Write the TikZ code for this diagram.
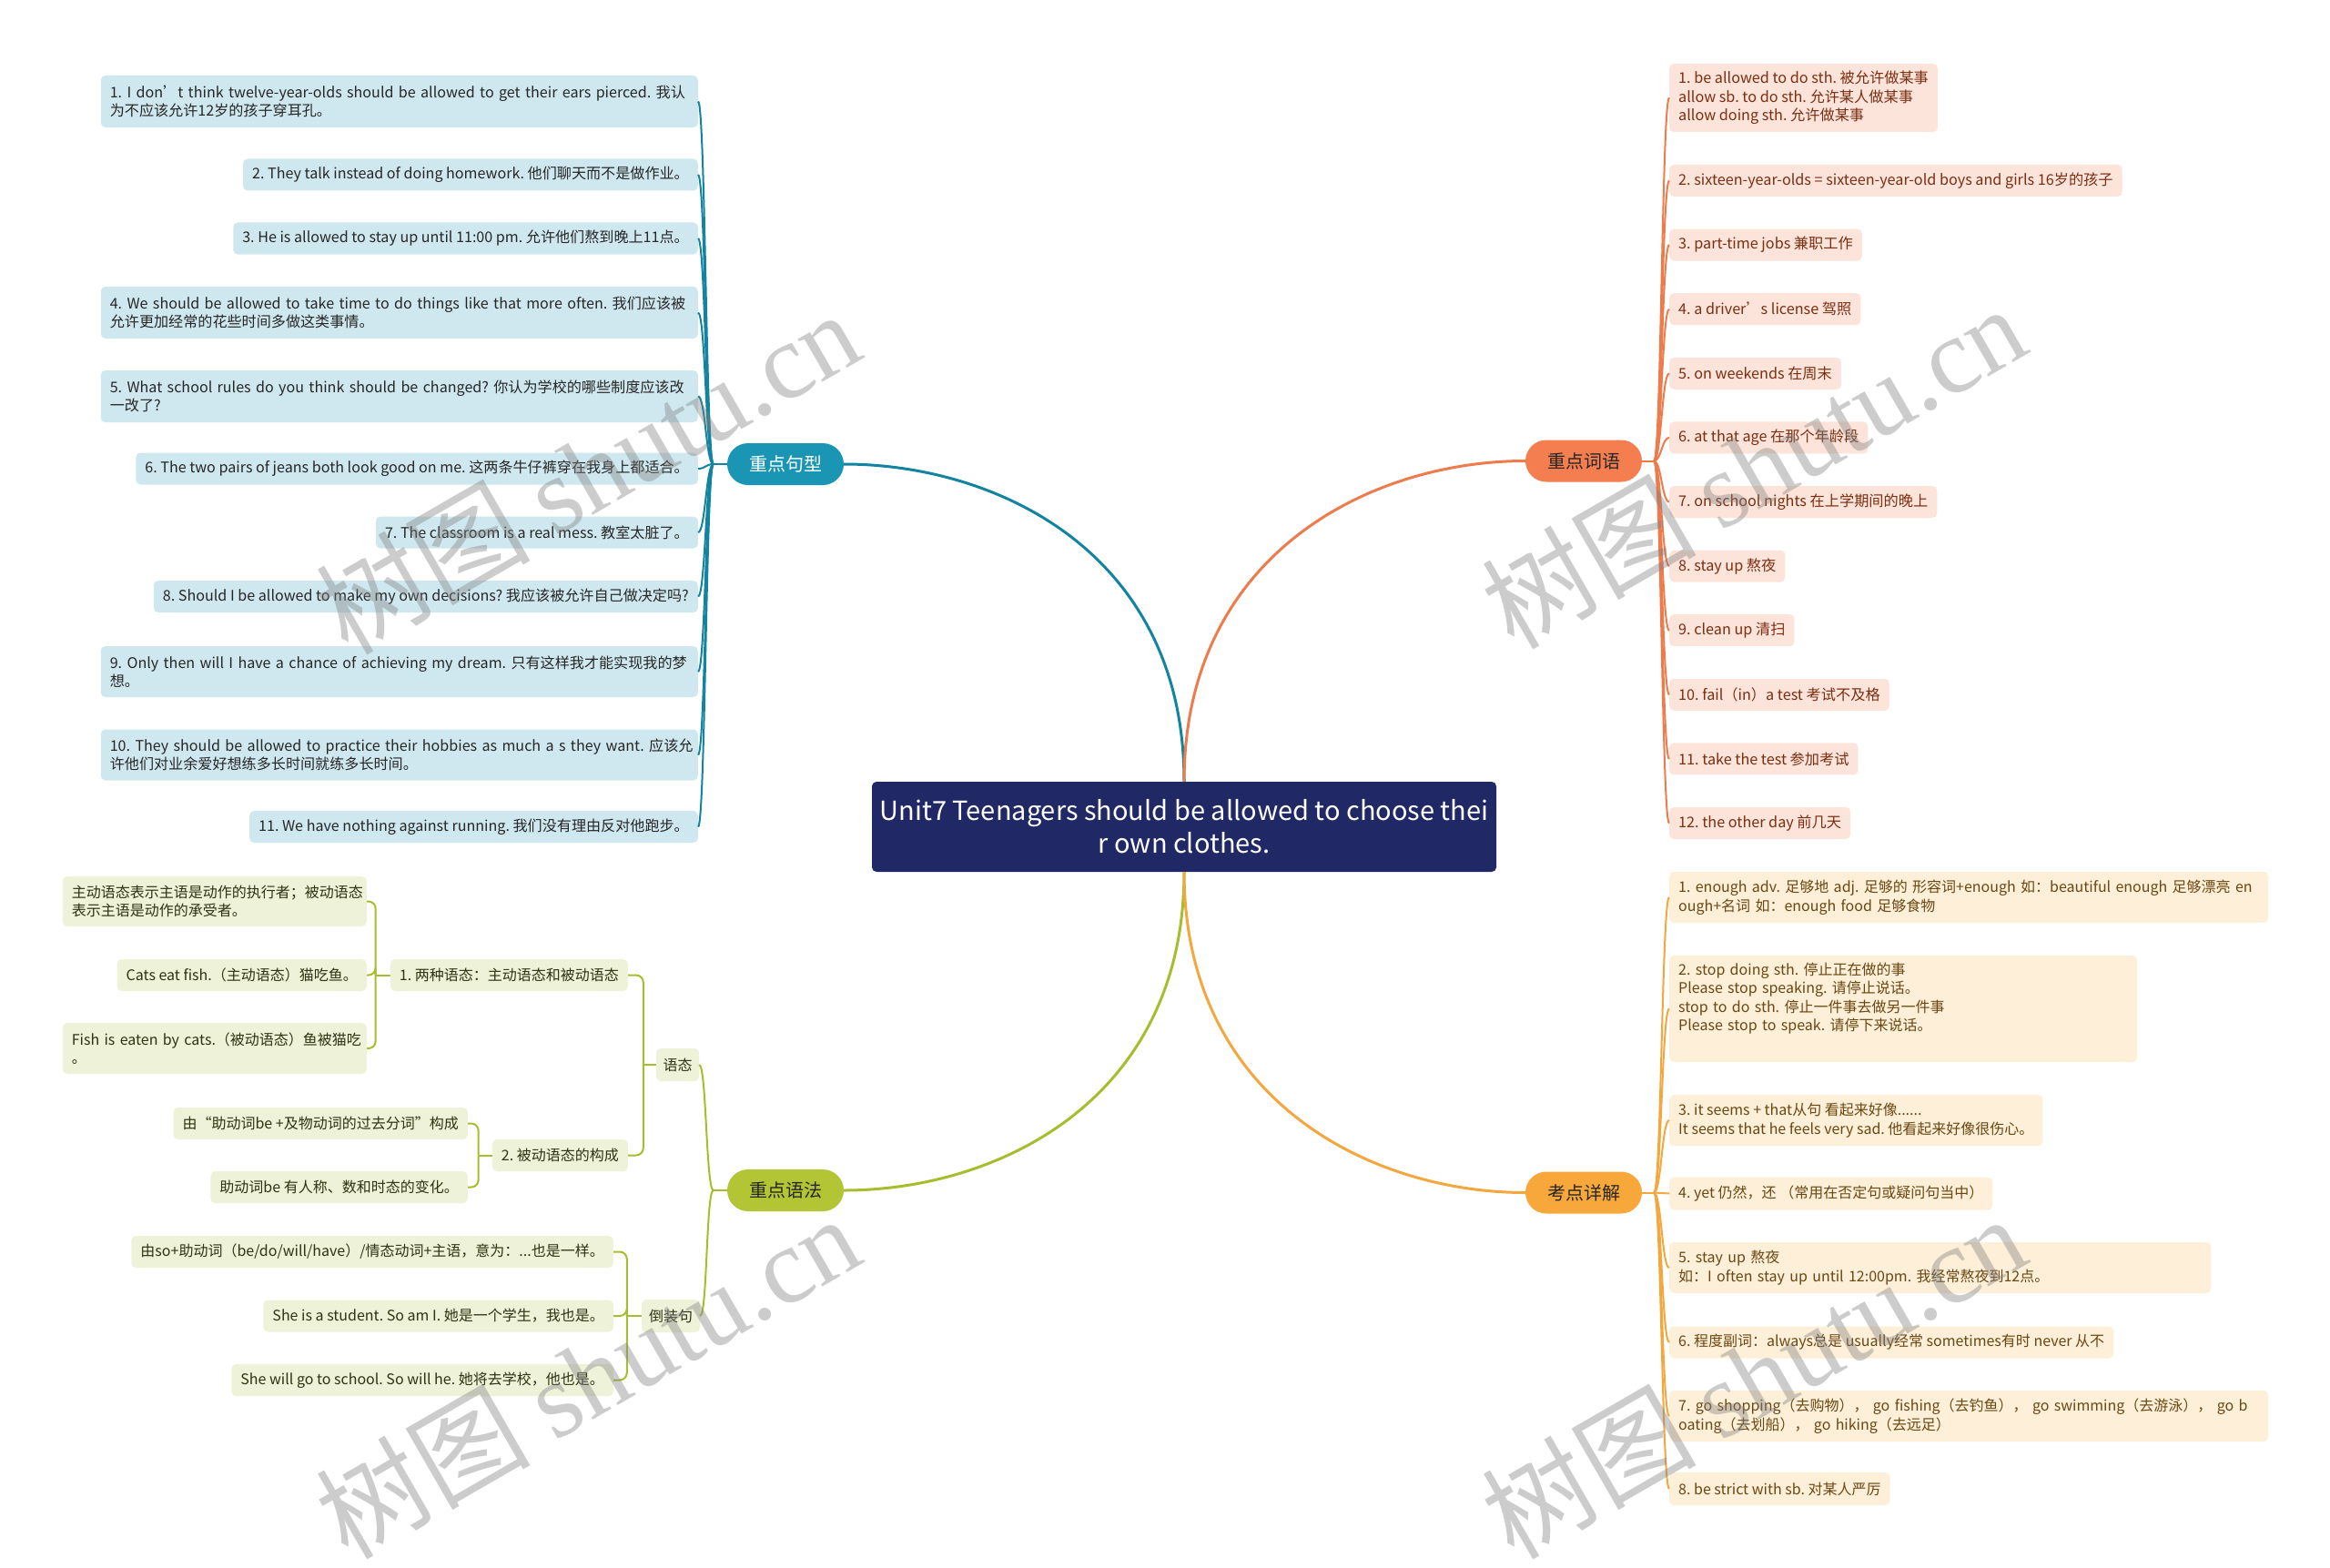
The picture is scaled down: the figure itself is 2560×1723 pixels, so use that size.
\documentclass[tikz,border=0pt]{standalone}
\usepackage{fontspec}
\setmainfont{Noto Sans CJK SC}
\newfontfamily\wmserif{Liberation Serif}
\usetikzlibrary{calc}
\frenchspacing
\definecolor{tealN}{HTML}{1A95B3}
\definecolor{tealL}{HTML}{13849F}
\definecolor{tealB}{HTML}{CFE8EF}
\definecolor{coralN}{HTML}{F47E50}
\definecolor{coralL}{HTML}{EE7B4C}
\definecolor{coralB}{HTML}{FDE4DB}
\definecolor{coralT}{HTML}{7A2E10}
\definecolor{ambN}{HTML}{F8A83A}
\definecolor{ambL}{HTML}{F2A83E}
\definecolor{ambB}{HTML}{FDEFD8}
\definecolor{ambT}{HTML}{6A4712}
\definecolor{grnN}{HTML}{B3C434}
\definecolor{grnL}{HTML}{A8BD2E}
\definecolor{grnB}{HTML}{EEF2D9}
\definecolor{grnT}{HTML}{2E3312}
\definecolor{navy}{HTML}{202866}
\tikzset{
  leaf/.style={rounded corners=5pt, inner xsep=10pt, inner ysep=0pt, minimum height=35pt,
    align=left, font=\fontsize{16}{20.5}\selectfont},
  lb/.style={leaf, fill=tealB, text=black!85, anchor=east, font=\fontsize{16.1}{20.5}\selectfont},
  rb/.style={leaf, fill=coralB, text=coralT, anchor=west, font=\fontsize{16.2}{20.5}\selectfont},
  ab/.style={leaf, fill=ambB, text=ambT, anchor=west},
  gb/.style={leaf, fill=grnB, text=grnT, anchor=east},
  branch/.style={rounded corners=23pt, minimum width=128pt, minimum height=46pt, inner sep=0pt,
    font=\fontsize{20}{24}\selectfont},
  ctrbox/.style={rounded corners=5pt, fill=navy, text=white, minimum width=686pt, minimum height=99pt,
    inner sep=0pt, align=center, font=\fontsize{29}{36}\selectfont},
  maincon/.style={line width=3pt},
  tcon/.style={draw=tealL, line width=2pt},
  rcon/.style={draw=coralL, line width=2pt},
  acon/.style={draw=ambL, line width=2pt},
  gcon/.style={draw=grnL, line width=2pt},
  elbow/.style={gcon, rounded corners=8pt},
  wm/.style={rotate=30, text=gray, opacity=0.4, font=\fontsize{118}{118}\selectfont, inner sep=0pt}
}
\begin{document}
\begin{tikzpicture}[x=1pt,y=-1pt]
\useasboundingbox[fill=white] (0,0) rectangle (2560,1723);

% centre and branches
\node[ctrbox] (ctr) at (1301,908.5) {Unit7 Teenagers should be allowed to choose thei\\r own clothes.};
\node[branch, fill=tealN, text=white] (gx) at (863,510) {重点句型};
\node[branch, fill=coralN, text=black!85] (cy) at (1740,506.5) {重点词语};
\node[branch, fill=grnN, text=black!85] (yf) at (863,1308) {重点语法};
\node[branch, fill=ambN, text=black!85] (kd) at (1740,1310.5) {考点详解};

% left leaves
\node[lb, text width=636pt, minimum height=57pt] (L1) at (767,111.5) {\mbox{1. I don’t think twelve-year-olds should be allowed to get their ears pierced. 我认}\\为不应该允许12岁的孩子穿耳孔。};
\node[lb] (L2) at (767,192) {2. They talk instead of doing homework. 他们聊天而不是做作业。};
\node[lb] (L3) at (767,262) {3. He is allowed to stay up until 11:00 pm. 允许他们熬到晚上11点。};
\node[lb, text width=636pt, minimum height=57pt] (L4) at (767,343.5) {\mbox{4. We should be allowed to take time to do things like that more often. 我们应该被}\\允许更加经常的花些时间多做这类事情。};
\node[lb, text width=636pt, minimum height=57pt] (L5) at (767,435.5) {\mbox{5. What school rules do you think should be changed? 你认为学校的哪些制度应该改}\\一改了?};
\node[lb] (L6) at (767,515) {6. The two pairs of jeans both look good on me. 这两条牛仔裤穿在我身上都适合。};
\node[lb] (L7) at (767,585) {7. The classroom is a real mess. 教室太脏了。};
\node[lb] (L8) at (767,655.5) {8. Should I be allowed to make my own decisions? 我应该被允许自己做决定吗?};
\node[lb, text width=636pt, minimum height=56pt] (L9) at (767,738) {\mbox{9. Only then will I have a chance of achieving my dream. 只有这样我才能实现我的梦}\\想。};
\node[lb, text width=636pt, minimum height=56pt] (L10) at (767,829.5) {\mbox{10. They should be allowed to practice their hobbies as much a s they want. 应该允}\\许他们对业余爱好想练多长时间就练多长时间。};
\node[lb] (L11) at (767,908.5) {11. We have nothing against running. 我们没有理由反对他跑步。};

% right leaves (coral)
\node[rb, minimum height=75pt] (R1) at (1834,107.5) {1. be allowed to do sth. 被允许做某事\\allow sb. to do sth. 允许某人做某事\\allow doing sth. 允许做某事};
\node[rb] (R2) at (1834,198.5) {2. sixteen-year-olds = sixteen-year-old boys and girls 16岁的孩子};
\node[rb] (R3) at (1834,269.1) {3. part-time jobs 兼职工作};
\node[rb] (R4) at (1834,339.7) {4. a driver’s license 驾照};
\node[rb] (R5) at (1834,410.3) {5. on weekends 在周末};
\node[rb] (R6) at (1834,480.9) {6. at that age 在那个年龄段};
\node[rb] (R7) at (1834,551.5) {7. on school nights 在上学期间的晚上};
\node[rb] (R8) at (1834,622.1) {8. stay up 熬夜};
\node[rb] (R9) at (1834,692.7) {9. clean up 清扫};
\node[rb] (R10) at (1834,763.3) {10. fail（in）a test 考试不及格};
\node[rb] (R11) at (1834,833.9) {11. take the test 参加考试};
\node[rb] (R12) at (1834,904.5) {12. the other day 前几天};

% right leaves (amber)
\node[ab, text width=638pt, minimum height=56pt] (A1) at (1834,986) {\mbox{1. enough adv. 足够地 adj. 足够的 形容词+enough 如：beautiful enough 足够漂亮 en}\\ough+名词 如：enough food 足够食物};
\node[ab, text width=494pt, minimum height=117pt] (A2) at (1834,1108.5) {2. stop doing sth. 停止正在做的事\\Please stop speaking. 请停止说话。\\stop to do sth. 停止一件事去做另一件事\\Please stop to speak. 请停下来说话。\\\strut};
\node[ab, minimum height=56pt] (A3) at (1834,1231) {3. it seems + that从句 看起来好像......\\It seems that he feels very sad. 他看起来好像很伤心。};
\node[ab, minimum height=36pt] (A4) at (1834,1311.5) {4. yet 仍然，还 （常用在否定句或疑问句当中）};
\node[ab, text width=575pt, minimum height=56pt] (A5) at (1834,1393) {5. stay up 熬夜\\如：I often stay up until 12:00pm. 我经常熬夜到12点。};
\node[ab] (A6) at (1834,1475) {6. 程度副词：always总是 usually经常 sometimes有时 never 从不};
\node[ab, text width=638pt, minimum height=56pt] (A7) at (1834,1556) {\mbox{7. go shopping（去购物）， go fishing（去钓鱼）， go swimming（去游泳）， go b}\\oating（去划船）， go hiking（去远足）};
\node[ab, minimum height=36pt] (A8) at (1834,1636) {8. be strict with sb. 对某人严厉};

% grammar subtree
\node[gb, anchor=center, inner xsep=7.5pt, minimum height=36pt] (yt) at (744.5,1170) {语态};
\node[gb, anchor=center, inner xsep=8pt, minimum height=36pt] (dz) at (737,1446) {倒装句};
\node[gb] (n1) at (690,1071.5) {1. 两种语态：主动语态和被动语态};
\node[gb] (n2) at (690,1269.5) {2. 被动语态的构成};
\node[gb, text width=314pt, minimum height=55pt] (ga) at (403,990.5) {\mbox{主动语态表示主语是动作的执行者；被动语态}\\表示主语是动作的承受者。};
\node[gb] (gbx) at (403,1071.5) {Cats eat fish.（主动语态）猫吃鱼。};
\node[gb, text width=314pt, minimum height=56pt] (gc) at (403,1152) {\mbox{Fish is eaten by cats.（被动语态）鱼被猫吃}\\。};
\node[gb] (gd) at (514,1234.5) {由“助动词be +及物动词的过去分词”构成};
\node[gb] (ge) at (514,1304.5) {助动词be 有人称、数和时态的变化。};
\node[gb] (gf) at (674,1375.5) {由so+助动词（be/do/will/have）/情态动词+主语，意为：...也是一样。};
\node[gb] (gg) at (674,1446) {She is a student. So am I. 她是一个学生，我也是。};
\node[gb] (gh) at (674,1516.5) {She will go to school. So will he. 她将去学校，他也是。};

% main connectors
\draw[maincon, draw=tealL] (ctr.north) .. controls ($(ctr.north)+(0,-250)$) and ($(gx.east)+(170,0)$) .. (gx.east);
\draw[maincon, draw=coralL] (ctr.north) .. controls ($(ctr.north)+(0,-250)$) and ($(cy.west)+(-170,0)$) .. (cy.west);
\draw[maincon, draw=grnL] (ctr.south) .. controls ($(ctr.south)+(0,250)$) and ($(yf.east)+(170,0)$) .. (yf.east);
\draw[maincon, draw=ambL] (ctr.south) .. controls ($(ctr.south)+(0,250)$) and ($(kd.west)+(-170,0)$) .. (kd.west);

% left connectors
\draw[tcon] (gx.west) -- ++(-15,0) coordinate (jL);
\foreach \n in {L1,L2,L3,L4,L5,L6,L7,L8,L9,L10,L11}
  \draw[tcon] (jL) .. controls ($(jL)+(-8,0)$) and ($(\n.east)+(8,0)$) .. (\n.east);

% right coral connectors
\draw[rcon] (cy.east) -- ++(13,0) coordinate (jR);
\foreach \n in {R1,R2,R3,R4,R5,R6,R7,R8,R9,R10,R11,R12}
  \draw[rcon] (jR) .. controls ($(jR)+(8,0)$) and ($(\n.west)+(-8,0)$) .. (\n.west);

% amber connectors
\draw[acon] (kd.east) -- ++(13,0) coordinate (jA);
\foreach \n in {A1,A2,A3,A4,A5,A6,A7,A8}
  \draw[acon] (jA) .. controls ($(jA)+(8,0)$) and ($(\n.west)+(-8,0)$) .. (\n.west);

% grammar connectors
\draw[gcon] (yf.west) -- ++(-15,0) coordinate (jG);
\foreach \n in {yt,dz}
  \draw[gcon] (jG) .. controls ($(jG)+(-8,0)$) and ($(\n.east)+(8,0)$) .. (\n.east);
\draw[gcon] (yt.west) -- ++(-14,0) coordinate (jY);
\draw[elbow] (n1.east) -| (jY);
\draw[elbow] (n2.east) -| (jY);
\draw[gcon] (n1.west) -- ++(-16,0) coordinate (jN1);
\draw[elbow] (ga.east) -| (jN1);
\draw[elbow] (gbx.east) -| (jN1);
\draw[elbow] (gc.east) -| (jN1);
\draw[gcon] (n2.west) -- ++(-15,0) coordinate (jN2);
\draw[elbow] (gd.east) -| (jN2);
\draw[elbow] (ge.east) -| (jN2);
\draw[gcon] (dz.west) -- ++(-16,0) coordinate (jD);
\draw[elbow] (gf.east) -| (jD);
\draw[elbow] (gg.east) -| (jD);
\draw[elbow] (gh.east) -| (jD);

% watermarks
\node[wm] (w1) at (645,518) {树图 {\wmserif shutu.cn}};
\node[wm] (w2) at (1926,512) {树图 {\wmserif shutu.cn}};
\node[wm] (w3) at (645,1512) {树图 {\wmserif shutu.cn}};
\node[wm] (w4) at (1926,1512) {树图 {\wmserif shutu.cn}};
\end{tikzpicture}
\end{document}
